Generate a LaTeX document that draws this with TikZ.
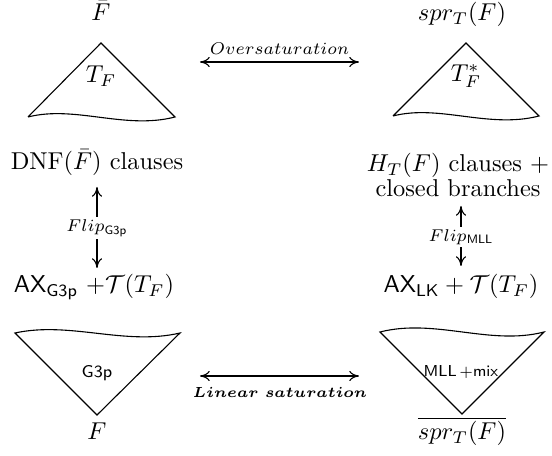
\documentclass[tikz,border=0pt]{standalone}
\usepackage{amsmath}
\usetikzlibrary{arrows.meta}
\begin{document}
\begin{tikzpicture}[x=0.41pt,y=-0.41pt,
  lbl/.style={inner sep=1pt},
  tri/.style={line width=0.45pt, line join=miter},
  dbl/.style={line width=0.45pt, {To[length=4pt,width=4.2pt]}-{To[length=4pt,width=4.2pt]}},
  flipl/.style={fill=white, inner sep=1pt, font=\scriptsize}]
\useasboundingbox (0,0) rectangle (552,456);

% top labels
\node[lbl, anchor=base] (Fbar) at (101,21) {$\bar F$};
\node[lbl, anchor=base] (spr) at (462,21) {$spr_T(F)$};

% top triangles
\draw[tri] (28,117) -- (101,43) -- (175,117) .. controls (125,130) and (75,105) .. (28,117);
\node[lbl] (TF) at (101,76) {$T_F$};
\draw[tri] (393,116) -- (466,43) -- (539,116) .. controls (489,129) and (439,104) .. (393,116);
\node[lbl] (TFs) at (466,76) {$T_F^*$};

% oversaturation
\coordinate (o1) at (200,62);
\coordinate (o2) at (359,62);
\draw[dbl] (o1) -- (o2);
\node[font=\scriptsize, inner sep=1pt] (ov) at (279.5,49) {$Oversaturation$};

% middle texts
\node[lbl, anchor=base] (dnf) at (97,170) {$\mathrm{DNF}(\bar F)$ clauses};
\node[lbl, anchor=base, align=center] (ht) at (458,197) {$H_T(F)$ clauses $+$\\[-1.5pt] closed branches};
\node[lbl, anchor=base] (axg) at (94,293) {$\mathsf{AX}_{\mathsf{G3p}}$ $+\mathcal{T}(T_F)$};
\node[lbl, anchor=base] (axl) at (461,293) {$\mathsf{AX}_{\mathsf{LK}} + \mathcal{T}(T_F)$};

% flip arrows
\coordinate (f1) at (97,187);
\coordinate (f2) at (97,268);
\draw[dbl] (f1) -- (f2);
\node[flipl] (fg) at (97,228) {$Flip_{\mathsf{G3p}}$};
\coordinate (f3) at (461,206);
\coordinate (f4) at (461,266);
\draw[dbl] (f3) -- (f4);
\node[flipl] (fm) at (461,237) {$Flip_{\mathsf{MLL}}$};

% bottom triangles
\draw[tri] (15,333) .. controls (70,321) and (125,346) .. (180,333) -- (97,415) -- cycle;
\node[lbl, font=\scriptsize\sffamily] (g3p) at (97,373) {G3p};
\draw[tri] (380,332) .. controls (435,318) and (490,346) .. (544,332) -- (462,414) -- cycle;
\node[lbl, font=\fontsize{6.5pt}{8pt}\selectfont\sffamily] (mll) at (461,372) {MLL\,$+$mix};

% linear saturation
\coordinate (l1) at (200,376);
\coordinate (l2) at (359,376);
\draw[dbl] (l1) -- (l2);
\node[font=\fontsize{6.3pt}{7.5pt}\selectfont\boldmath, inner sep=1pt] (ls) at (280,392) {$Linear\ saturation$};

% bottom labels
\node[lbl, anchor=base] (F) at (97,440) {$F$};
\node[lbl, anchor=base] (sprb) at (462,440) {$\overline{spr_T(F)}$};
\end{tikzpicture}
\end{document}
